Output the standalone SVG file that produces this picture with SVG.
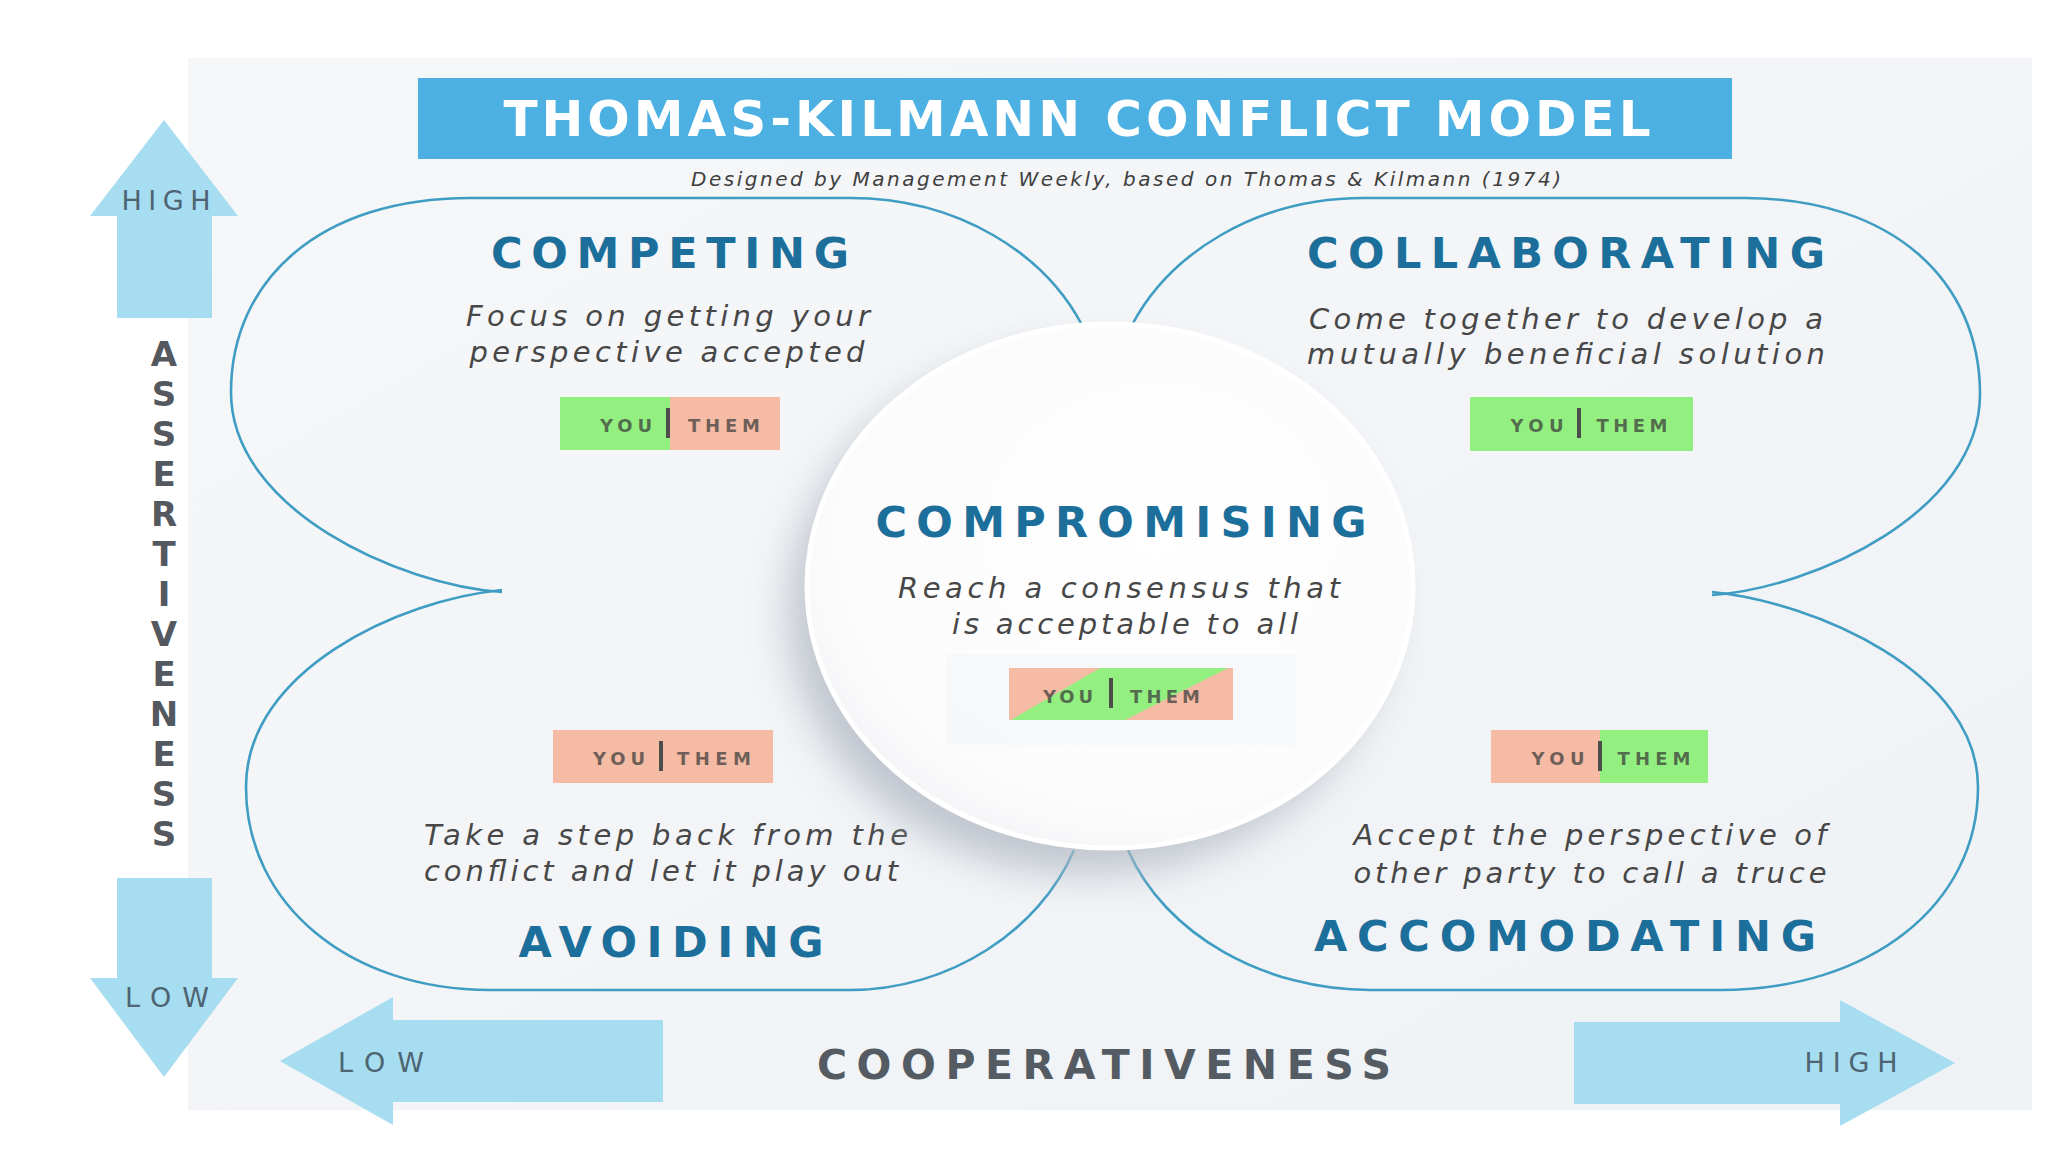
<svg xmlns="http://www.w3.org/2000/svg" width="2048" height="1152" viewBox="0 0 2048 1152">
<defs>
<style>
.petal{fill:none;stroke:#3f9dc3;stroke-width:2.6}
.arrow{fill:#a7ddf0}
.axl{font-family:"DejaVu Sans","Liberation Sans",sans-serif;font-size:27px;fill:#4e6472;text-anchor:middle}
.head{font-family:"DejaVu Sans","Liberation Sans",sans-serif;font-weight:bold;font-size:43px;fill:#1c6f9b;text-anchor:middle}
.desc{font-family:"DejaVu Sans","Liberation Sans",sans-serif;font-style:italic;font-size:29px;fill:#474747;text-anchor:middle}
.bt{font-family:"DejaVu Sans","Liberation Sans",sans-serif;font-weight:bold;font-size:18px;fill:#3a3a3a;fill-opacity:0.72;text-anchor:middle}
.div{fill:#4d4d4d}
.green{fill:#93ef80}
.peach{fill:#f6bba5}
.vl{font-family:"DejaVu Sans","Liberation Sans",sans-serif;font-weight:bold;font-size:34px;fill:#54585f;text-anchor:middle}
</style>
<linearGradient id="bg" x1="0" y1="0" x2="1" y2="1">
<stop offset="0" stop-color="#f6f7f9"/>
<stop offset="1" stop-color="#eff2f5"/>
</linearGradient>
<radialGradient id="disc" cx="0.58" cy="0.4" r="0.7">
<stop offset="0" stop-color="#ffffff"/>
<stop offset="0.8" stop-color="#fbfbfc"/>
<stop offset="1" stop-color="#eceef1"/>
</radialGradient>
<filter id="blur" x="-30%" y="-30%" width="160%" height="160%">
<feGaussianBlur stdDeviation="20"/>
</filter>
</defs>
<rect width="2048" height="1152" fill="#ffffff"/>
<rect x="188" y="58" width="1844" height="1052" fill="url(#bg)"/>

<g id="title">
<rect x="418" y="78" width="1314" height="81" fill="#4db0e2"/>
<text x="1077" y="136" font-family="DejaVu Sans,Liberation Sans,sans-serif" font-weight="bold" font-size="50" fill="#ffffff" text-anchor="middle" textLength="1147" lengthAdjust="spacing">THOMAS-KILMANN CONFLICT MODEL</text>
<text x="1126" y="186" font-family="DejaVu Sans,Liberation Sans,sans-serif" font-style="italic" font-size="20" fill="#3f3f3f" text-anchor="middle" textLength="870" lengthAdjust="spacing">Designed by Management Weekly, based on Thomas &amp; Kilmann (1974)</text>
</g>

<g id="axis-assertiveness">
<polygon class="arrow" points="164,120 238,216 212,216 212,318 117,318 117,216 90,216"/>
<text class="axl" x="166" y="210" textLength="89" lengthAdjust="spacing">HIGH</text>
<polygon class="arrow" points="117,878 212,878 212,978 238,978 164,1077 90,978 117,978"/>
<text class="axl" x="167" y="1007" textLength="84" lengthAdjust="spacing">LOW</text>
<text class="vl" x="164" y="366">A</text>
<text class="vl" x="164" y="406">S</text>
<text class="vl" x="164" y="446">S</text>
<text class="vl" x="164" y="486">E</text>
<text class="vl" x="164" y="526">R</text>
<text class="vl" x="164" y="566">T</text>
<text class="vl" x="164" y="606">I</text>
<text class="vl" x="164" y="646">V</text>
<text class="vl" x="164" y="686">E</text>
<text class="vl" x="164" y="726">N</text>
<text class="vl" x="164" y="766">E</text>
<text class="vl" x="164" y="806">S</text>
<text class="vl" x="164" y="846">S</text>
</g>

<g id="axis-cooperativeness">
<polygon class="arrow" points="280,1061 393,997 393,1020 663,1020 663,1102 393,1102 393,1125"/>
<text class="axl" x="381" y="1072" textLength="86" lengthAdjust="spacing">LOW</text>
<polygon class="arrow" points="1574,1022 1840,1022 1840,1000 1955,1063 1840,1126 1840,1104 1574,1104"/>
<text class="axl" x="1851" y="1072" textLength="93" lengthAdjust="spacing">HIGH</text>
<text x="1104" y="1079" font-family="DejaVu Sans,Liberation Sans,sans-serif" font-weight="bold" font-size="41" fill="#555b62" text-anchor="middle" textLength="574" lengthAdjust="spacing">COOPERATIVENESS</text>
</g>

<g id="connectors">
<path class="petal" d="M 502 592 C 400 585 231 510 231 392 C 231 280 320 198 470 198 L 850 198 C 960 198 1045 255 1082 325"/>
<path class="petal" d="M 1712 595 C 1814 588 1980 512 1980 394 C 1980 282 1894 198 1744 198 L 1364 198 C 1254 198 1169 255 1132 325"/>
<path class="petal" d="M 502 590 C 400 600 246 670 246 787 C 246 905 350 990 490 990 L 850 990 C 950 990 1040 930 1074 850"/>
<path class="petal" d="M 1712 592 C 1814 602 1978 672 1978 787 C 1978 905 1870 990 1720 990 L 1370 990 C 1265 990 1165 935 1128 850"/>
</g>

<g id="node-competing">
<text class="head" x="670" y="268" textLength="358" lengthAdjust="spacing">COMPETING</text>
<text class="desc" x="668" y="326" textLength="404" lengthAdjust="spacing">Focus on getting your</text>
<text class="desc" x="667" y="362" textLength="395" lengthAdjust="spacing">perspective accepted</text>
<rect class="green" x="560" y="397" width="110" height="53"/>
<rect class="peach" x="670" y="397" width="110" height="53"/>
<rect class="div" x="666" y="408" width="4" height="30"/>
<text class="bt" x="626" y="432" textLength="52" lengthAdjust="spacing">YOU</text>
<text class="bt" x="724" y="432" textLength="72" lengthAdjust="spacing">THEM</text>
</g>

<g id="node-collaborating">
<text class="head" x="1566" y="268" textLength="518" lengthAdjust="spacing">COLLABORATING</text>
<text class="desc" x="1566" y="329" textLength="514" lengthAdjust="spacing">Come together to develop a</text>
<text class="desc" x="1566" y="364" textLength="518" lengthAdjust="spacing">mutually beneficial solution</text>
<rect class="green" x="1470" y="397" width="223" height="54"/>
<rect class="div" x="1577" y="408" width="4" height="30"/>
<text class="bt" x="1537" y="432" textLength="53" lengthAdjust="spacing">YOU</text>
<text class="bt" x="1632" y="432" textLength="71" lengthAdjust="spacing">THEM</text>
</g>

<g id="node-avoiding">
<rect class="peach" x="553" y="730" width="220" height="53"/>
<rect class="div" x="659" y="741" width="4" height="30"/>
<text class="bt" x="619" y="765" textLength="52" lengthAdjust="spacing">YOU</text>
<text class="bt" x="714" y="765" textLength="74" lengthAdjust="spacing">THEM</text>
<text class="desc" x="666" y="845" textLength="484" lengthAdjust="spacing">Take a step back from the</text>
<text class="desc" x="661" y="881" textLength="474" lengthAdjust="spacing">conflict and let it play out</text>
<text class="head" x="671" y="957" textLength="305" lengthAdjust="spacing">AVOIDING</text>
</g>

<g id="node-accomodating">
<rect class="peach" x="1491" y="730" width="109" height="53"/>
<rect class="green" x="1600" y="730" width="108" height="53"/>
<rect class="div" x="1598" y="741" width="4" height="30"/>
<text class="bt" x="1558" y="765" textLength="53" lengthAdjust="spacing">YOU</text>
<text class="bt" x="1654" y="765" textLength="73" lengthAdjust="spacing">THEM</text>
<text class="desc" x="1590" y="845" textLength="473" lengthAdjust="spacing">Accept the perspective of</text>
<text class="desc" x="1590" y="883" textLength="473" lengthAdjust="spacing">other party to call a truce</text>
<text class="head" x="1565" y="951" textLength="502" lengthAdjust="spacing">ACCOMODATING</text>
</g>

<g id="node-compromising">
<ellipse cx="1088" cy="612" rx="300" ry="262" fill="#b4bac4" opacity="0.8" filter="url(#blur)"/>
<ellipse cx="1110" cy="586" rx="303" ry="262" fill="url(#disc)" stroke="#ffffff" stroke-width="5"/>
<rect x="947" y="654" width="349" height="91" fill="#f4f5f7" opacity="0.6"/>
<text class="head" x="1121" y="537" textLength="491" lengthAdjust="spacing">COMPROMISING</text>
<text class="desc" x="1119" y="598" textLength="442" lengthAdjust="spacing">Reach a consensus that</text>
<text class="desc" x="1125" y="634" textLength="346" lengthAdjust="spacing">is acceptable to all</text>
<rect class="peach" x="1009" y="668" width="224" height="52"/>
<polygon class="green" points="1011,720 1100,668 1228,668 1125,720"/>
<rect class="div" x="1109" y="678" width="4" height="30"/>
<text class="bt" x="1068" y="703" textLength="50" lengthAdjust="spacing">YOU</text>
<text class="bt" x="1165" y="703" textLength="70" lengthAdjust="spacing">THEM</text>
</g>
</svg>
